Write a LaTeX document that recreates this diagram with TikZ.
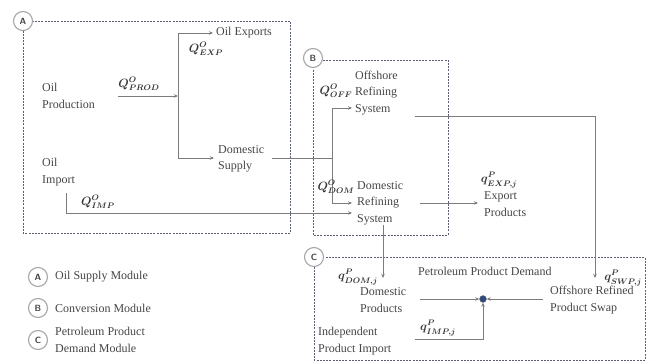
\documentclass[tikz,border=0pt]{standalone}
\usepackage{amsmath,amssymb}
\usepackage{fontspec}
\setmainfont{Liberation Serif}
\usetikzlibrary{arrows.meta}
\definecolor{txt}{HTML}{454545}
\definecolor{ln}{HTML}{7C7C7C}
\definecolor{bx}{HTML}{5A5F78}
\definecolor{hubc}{HTML}{2E4A7C}
\begin{document}
\begin{tikzpicture}[x=1pt,y=-1pt,
  lbl/.style={text=txt,font=\fontsize{12}{16.5}\selectfont,align=left,anchor=west,inner sep=0pt},
  ql/.style={text=txt!80!black,inner sep=0pt,font=\boldmath\fontsize{12}{14}\selectfont},
  conn/.style={draw=ln,line width=0.9pt},
  arr/.style={conn,-{Stealth[length=4pt,width=3.5pt]}},
  modbox/.style={draw=bx,line width=0.7pt,dash pattern=on 2pt off 1.2pt},
  badge/.style={circle,draw=gray!70,line width=1.1pt,fill=white,minimum size=19pt,inner sep=0pt,font=\sffamily\bfseries\small,text=txt},
  hubstyle/.style={circle,draw=ln,fill=hubc,minimum size=7pt,inner sep=0pt}]
\useasboundingbox (0,0) rectangle (646,362);
% module boxes
\draw[modbox] (23,21) rectangle (290,233);
\draw[modbox] (313,60) rectangle (448,235);
\draw[modbox] (314,257) rectangle (645,360);
\node[badge] (bA) at (23,21) {A};
\node[badge] (bB) at (313,58) {B};
\node[badge] (bC) at (314,257) {C};
% legend
\node[badge] (lA) at (38,277) {A};
\node[badge] (lB) at (38,308) {B};
\node[badge] (lC) at (38,340) {C};
\node[lbl] (tA) at (55,277) {Oil Supply Module};
\node[lbl] (tB) at (55,308) {Conversion Module};
\node[lbl] (tC) at (55,340) {Petroleum Product\\Demand Module};
% module A texts
\node[lbl] (prod) at (42,96) {Oil\\Production};
\node[lbl] (oexp) at (216,33) {Oil Exports};
\node[lbl] (dsup) at (218,159) {Domestic\\Supply};
\node[lbl] (oimp) at (42,172) {Oil\\Import};
% module B texts
\node[lbl] (off) at (355,93) {Offshore\\Refining\\System};
\node[lbl] (dref) at (357,203) {Domestic\\Refining\\System};
\node[lbl] (expp) at (484,204) {Export\\Products};
% module C texts
\node[lbl] (dem) at (418,271) {Petroleum Product Demand};
\node[lbl] (dprod) at (360,300) {Domestic\\Products};
\node[lbl] (swap) at (550,300) {Offshore Refined\\Product Swap};
\node[lbl] (indimp) at (318,341) {Independent\\Product Import};
\node[hubstyle] (hub) at (483,299) {};
% junction coordinates
\coordinate (pA) at (118,96);
\coordinate (jA) at (178,96);
\coordinate (jAt) at (178,33);
\coordinate (jAb) at (178,158);
\coordinate (sA) at (272,158);
\coordinate (jB) at (332,158);
\coordinate (jBt) at (332,108);
\coordinate (jBb) at (332,203);
\coordinate (iA) at (66,193);
\coordinate (iB) at (66,213);
\coordinate (iE) at (352,213);
\coordinate (oA) at (415,116);
\coordinate (oB) at (595,116);
\coordinate (oE) at (595,278);
\coordinate (dA) at (383,225);
\coordinate (dE) at (383,278);
\coordinate (rA) at (420,203);
\coordinate (rE) at (478,203);
\coordinate (hL) at (420,299);
\coordinate (hR) at (543,299);
\coordinate (mA) at (415,339);
\coordinate (mB) at (483,339);
% connectors
\draw[arr] (pA) -- (jA);
\draw[conn] (jAt) -- (jAb);
\draw[arr] (jAt) -- ([xshift=-3pt]jAt -| oexp.west);
\draw[arr] (jAb) -- ([xshift=-4pt]jAb -| dsup.west);
\draw[conn] (sA) -- (jB);
\draw[conn] (jBt) -- (jBb);
\draw[arr] (jBt) -- ([xshift=-3pt]jBt -| off.west);
\draw[arr] (jBb) -- ([xshift=-5pt]jBb -| dref.west);
\draw[arr] (iA) -- (iB) -- (iE);
\draw[arr] (oA) -- (oB) -- (oE);
\draw[arr] (dA) -- (dE);
\draw[arr] (rA) -- (rE);
\draw[arr] (hL) -- (hub);
\draw[arr] (hR) -- (hub);
\draw[arr] (mA) -- (mB) -- (hub);
% flow labels
\node[ql] (qprod) at (139,84) {$Q^{O}_{PROD}$};
\node[ql] (qexp) at (206,49) {$Q^{O}_{EXP}$};
\node[ql] (qimp) at (98,202) {$Q^{O}_{IMP}$};
\node[ql] (qoff) at (336,91) {$Q^{O}_{OFF}$};
\node[ql] (qdom) at (336,187) {$Q^{O}_{DOM}$};
\node[ql] (qexpj) at (499,180) {$q^{P}_{EXP,j}$};
\node[ql] (qswp) at (623,278) {$q^{P}_{SWP,j}$};
\node[ql] (qdomj) at (358,277) {$q^{P}_{DOM,j}$};
\node[ql] (qimpj) at (438,328) {$q^{P}_{IMP,j}$};
\end{tikzpicture}
\end{document}
